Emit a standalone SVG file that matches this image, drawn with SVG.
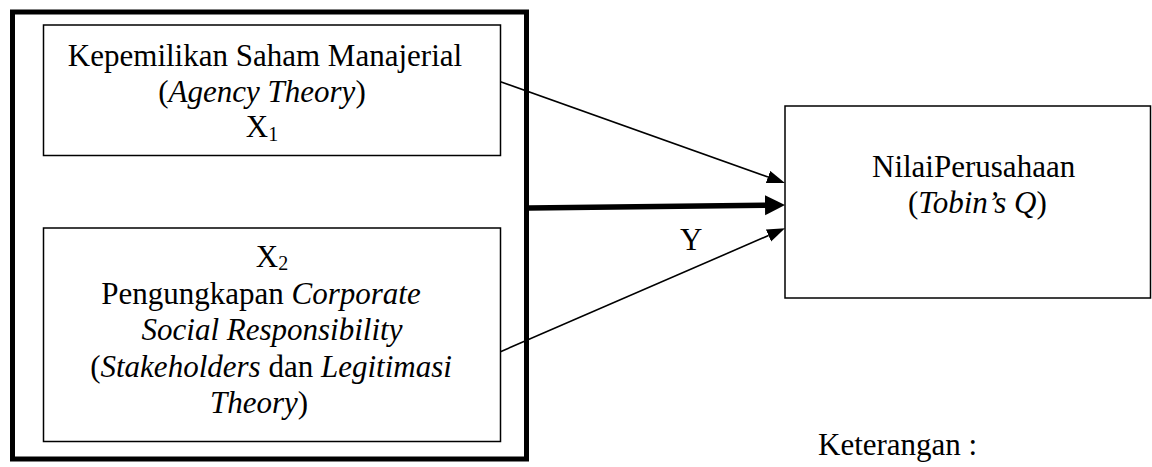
<svg xmlns="http://www.w3.org/2000/svg" width="1152" height="467" viewBox="0 0 1152 467">
<style>
  text { font-family: "Liberation Serif", "Times New Roman", serif; font-size: 31px; fill: #000; }
  .c { text-anchor: middle; }
  .i { font-style: italic; }
  .sub { font-size: 20px; }
  .box { fill: none; stroke: #000; stroke-width: 1.5; }
  .thin { stroke: #000; stroke-width: 1.6; fill: none; }
  .thick { stroke: #000; stroke-width: 5.5; fill: none; }
</style>
<defs>
  <marker id="ah" markerUnits="userSpaceOnUse" markerWidth="19" markerHeight="14" refX="0" refY="6.5" orient="auto">
    <path d="M0,0 L18,6.5 L0,13 z" fill="#000"/>
  </marker>
  <marker id="ahb" markerUnits="userSpaceOnUse" markerWidth="21" markerHeight="21" refX="0" refY="10" orient="auto">
    <path d="M0,0 L20,10 L0,20 z" fill="#000"/>
  </marker>
</defs>
<rect width="1152" height="467" fill="#fff"/>

<g id="group-x">
  <rect x="12.5" y="12" width="514" height="447" fill="none" stroke="#000" stroke-width="5"/>
</g>

<g id="node-x1">
  <rect class="box" x="43.5" y="25" width="457" height="130.5"/>
  <text class="c" x="265" y="66">Kepemilikan Saham Manajerial</text>
  <text class="c" x="262" y="102">(<tspan class="i">Agency Theory</tspan>)</text>
  <text class="c" x="262" y="137">X<tspan class="sub" dy="4">1</tspan></text>
</g>

<g id="node-x2">
  <rect class="box" x="43.5" y="228" width="457" height="213.5"/>
  <text class="c" x="272" y="267">X<tspan class="sub" dy="3">2</tspan></text>
  <text class="c" x="261" y="304">Pengungkapan <tspan class="i">Corporate</tspan></text>
  <text class="c i" x="272" y="340">Social Responsibility</text>
  <text class="c" x="271" y="377">(<tspan class="i">Stakeholders</tspan> dan <tspan class="i">Legitimasi</tspan></text>
  <text class="c" x="259" y="413"><tspan class="i">Theory</tspan>)</text>
</g>

<g id="node-y">
  <rect class="box" x="785" y="106" width="365.5" height="192"/>
  <text x="872" y="177">NilaiPerusahaan</text>
  <text x="908" y="213">(<tspan class="i">Tobin’s Q</tspan>)</text>
</g>

<g id="connectors">
  <line class="thin" x1="500.5" y1="81.7" x2="768" y2="177" marker-end="url(#ah)"/>
  <line class="thick" x1="529" y1="208" x2="765" y2="205.2" marker-end="url(#ahb)"/>
  <line class="thin" x1="500.5" y1="351.7" x2="768.5" y2="235.5" marker-end="url(#ah)"/>
</g>

<text x="680" y="250">Y</text>
<text x="818" y="455">Keterangan :</text>
</svg>
